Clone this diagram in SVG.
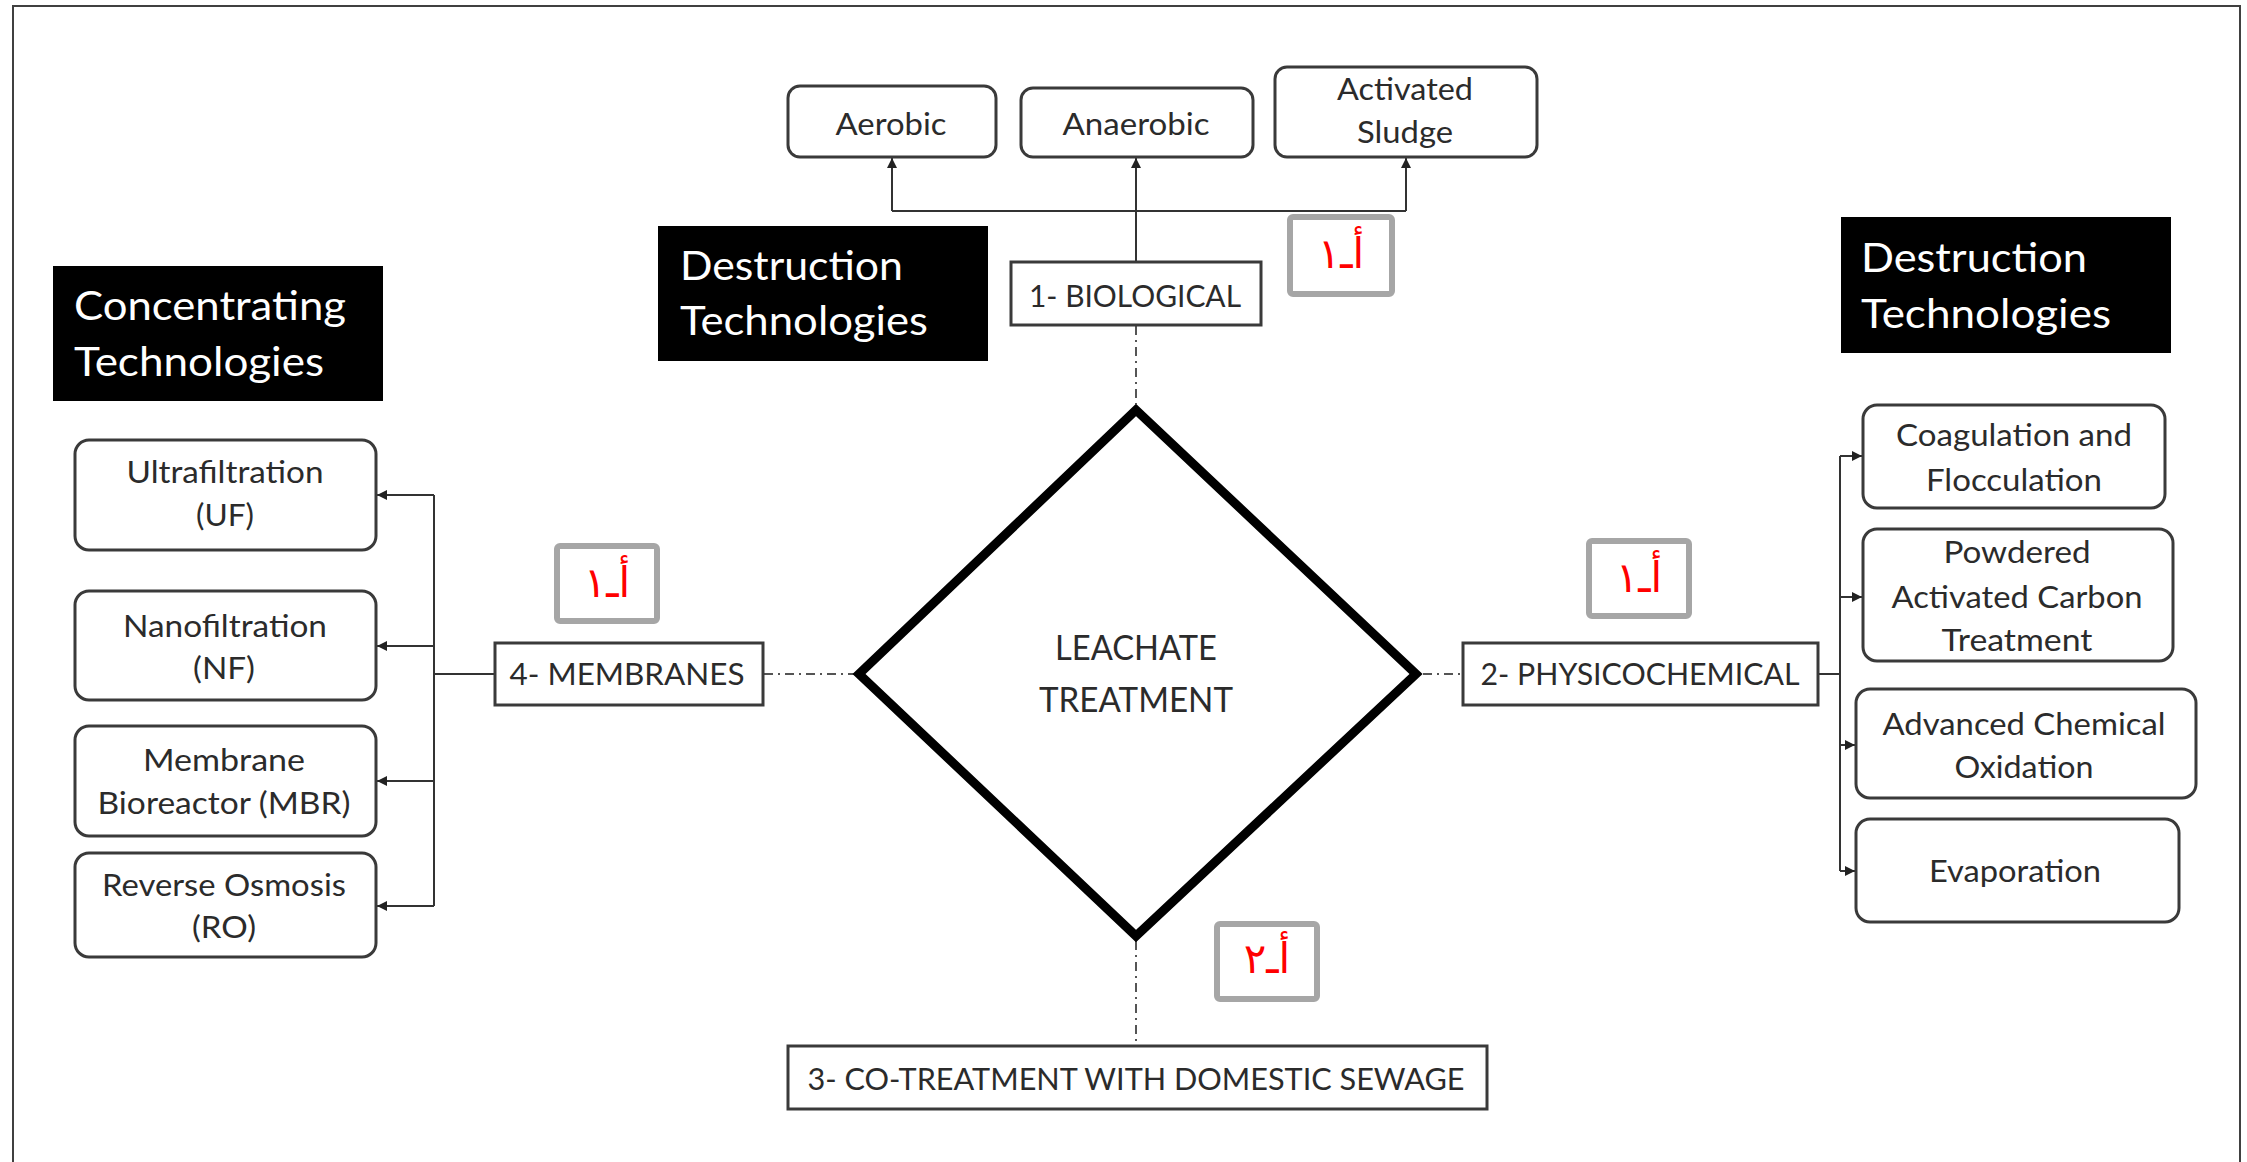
<svg xmlns="http://www.w3.org/2000/svg" width="2247" height="1162" viewBox="0 0 2247 1162">
<style>
.box{fill:#fff;stroke:#3a3a3a;stroke-width:3}
.rbox{fill:#fff;stroke:#3a3a3a;stroke-width:3}
.blk{fill:#000}
.lbl{fill:#fff;stroke:#a6a6a6;stroke-width:6}
.t{font-family:Lato,"Open Sans",sans-serif;font-size:31px;fill:#2b2b2b;text-anchor:middle}
.w{font-family:Lato,"Open Sans",sans-serif;font-size:40px;fill:#fff}
.c{font-family:Lato,"Open Sans",sans-serif;font-size:35px;fill:#2b2b2b;text-anchor:middle}
.ar{font-family:"DejaVu Sans",sans-serif;font-size:42px;fill:#ff0000;text-anchor:middle}
.ln{fill:none;stroke:#333;stroke-width:2}
.ar1{fill:none;stroke:#333;stroke-width:2;marker-end:url(#ah)}
.dd{fill:none;stroke:#555;stroke-width:2;stroke-dasharray:9 5 2 5}
</style>
<defs>
<marker id="ah" viewBox="0 0 10 10" refX="10" refY="5" markerWidth="10" markerHeight="10" markerUnits="userSpaceOnUse" orient="auto">
<path d="M0,0 L10,5 L0,10 z" fill="#222"/>
</marker>
</defs>
<rect x="13" y="6" width="2227" height="1170" fill="none" stroke="#404040" stroke-width="2"/>

<g id="connectors">
<path class="ln" d="M1136,262 V211"/>
<path class="ar1" d="M1136,211 V158"/>
<path class="ln" d="M892,211 H1406"/>
<path class="ar1" d="M892,211 V158"/>
<path class="ar1" d="M1406,211 V158"/>
<path class="dd" d="M1136,326 V404"/>
<path class="dd" d="M764,674 H856"/>
<path class="dd" d="M1423,674 H1462"/>
<path class="dd" d="M1136,941 V1045"/>
<path class="ln" d="M495,674 H434 M434,495 V906"/>
<path class="ar1" d="M434,495 H377"/>
<path class="ar1" d="M434,646 H377"/>
<path class="ar1" d="M434,781 H377"/>
<path class="ar1" d="M434,906 H377"/>
<path class="ln" d="M1818,674 H1840 M1840,456 V871"/>
<path class="ar1" d="M1840,456 H1862"/>
<path class="ar1" d="M1840,597 H1862"/>
<path class="ar1" d="M1840,745 H1855"/>
<path class="ar1" d="M1840,871 H1855"/>
</g>

<g id="center">
<path d="M1136,410 L1416,674 L1136,936 L859,674 Z" fill="#fff" stroke="#000" stroke-width="9" stroke-linejoin="miter"/>
<text class="c" x="1136" y="660" textLength="162" lengthAdjust="spacingAndGlyphs">LEACHATE</text>
<text class="c" x="1136" y="712" textLength="194" lengthAdjust="spacingAndGlyphs">TREATMENT</text>
</g>

<g id="aerobic"><rect class="rbox" x="788" y="86" width="208" height="71" rx="12"/><text class="t" x="891" y="135" textLength="111" lengthAdjust="spacingAndGlyphs">Aerobic</text></g>
<g id="anaerobic"><rect class="rbox" x="1021" y="88" width="232" height="69" rx="12"/><text class="t" x="1136" y="135" textLength="147" lengthAdjust="spacingAndGlyphs">Anaerobic</text></g>
<g id="activated-sludge"><rect class="rbox" x="1275" y="67" width="262" height="90" rx="12"/><text class="t" x="1405" y="100" textLength="136" lengthAdjust="spacingAndGlyphs">Activated</text><text class="t" x="1405" y="143" textLength="96" lengthAdjust="spacingAndGlyphs">Sludge</text></g>
<g id="biological"><rect class="box" x="1011" y="262" width="250" height="63"/><text class="t" x="1135" y="307" textLength="212" lengthAdjust="spacingAndGlyphs">1- BIOLOGICAL</text></g>

<g id="destruction-left"><rect class="blk" x="658" y="226" width="330" height="135"/><text class="w" x="680" y="280" textLength="223" lengthAdjust="spacingAndGlyphs">Destruction</text><text class="w" x="680" y="335" textLength="248" lengthAdjust="spacingAndGlyphs">Technologies</text></g>
<g id="concentrating"><rect class="blk" x="53" y="266" width="330" height="135"/><text class="w" x="74" y="320" textLength="272" lengthAdjust="spacingAndGlyphs">Concentrating</text><text class="w" x="74" y="376" textLength="250" lengthAdjust="spacingAndGlyphs">Technologies</text></g>
<g id="destruction-right"><rect class="blk" x="1841" y="217" width="330" height="136"/><text class="w" x="1861" y="272" textLength="226" lengthAdjust="spacingAndGlyphs">Destruction</text><text class="w" x="1861" y="328" textLength="250" lengthAdjust="spacingAndGlyphs">Technologies</text></g>

<g id="uf"><rect class="rbox" x="75" y="440" width="301" height="110" rx="14"/><text class="t" x="225" y="483" textLength="197" lengthAdjust="spacingAndGlyphs">Ultrafiltration</text><text class="t" x="225" y="526" textLength="58" lengthAdjust="spacingAndGlyphs">(UF)</text></g>
<g id="nf"><rect class="rbox" x="75" y="591" width="301" height="109" rx="14"/><text class="t" x="225" y="637" textLength="204" lengthAdjust="spacingAndGlyphs">Nanofiltration</text><text class="t" x="224" y="679" textLength="62" lengthAdjust="spacingAndGlyphs">(NF)</text></g>
<g id="mbr"><rect class="rbox" x="75" y="726" width="301" height="110" rx="14"/><text class="t" x="224" y="771" textLength="162" lengthAdjust="spacingAndGlyphs">Membrane</text><text class="t" x="224" y="814" textLength="253" lengthAdjust="spacingAndGlyphs">Bioreactor (MBR)</text></g>
<g id="ro"><rect class="rbox" x="75" y="853" width="301" height="104" rx="14"/><text class="t" x="224" y="896" textLength="244" lengthAdjust="spacingAndGlyphs">Reverse Osmosis</text><text class="t" x="224" y="938" textLength="64" lengthAdjust="spacingAndGlyphs">(RO)</text></g>
<g id="membranes"><rect class="box" x="495" y="643" width="268" height="62"/><text class="t" x="627" y="685" textLength="235" lengthAdjust="spacingAndGlyphs">4- MEMBRANES</text></g>

<g id="physicochemical"><rect class="box" x="1463" y="643" width="355" height="62"/><text class="t" x="1640" y="685" textLength="319" lengthAdjust="spacingAndGlyphs">2- PHYSICOCHEMICAL</text></g>
<g id="coagulation"><rect class="rbox" x="1863" y="405" width="302" height="103" rx="14"/><text class="t" x="2014" y="446" textLength="236" lengthAdjust="spacingAndGlyphs">Coagulation and</text><text class="t" x="2014" y="491" textLength="176" lengthAdjust="spacingAndGlyphs">Flocculation</text></g>
<g id="pac"><rect class="rbox" x="1863" y="529" width="310" height="132" rx="14"/><text class="t" x="2017" y="563" textLength="147" lengthAdjust="spacingAndGlyphs">Powdered</text><text class="t" x="2017" y="608" textLength="251" lengthAdjust="spacingAndGlyphs">Activated Carbon</text><text class="t" x="2017" y="651" textLength="151" lengthAdjust="spacingAndGlyphs">Treatment</text></g>
<g id="aco"><rect class="rbox" x="1856" y="689" width="340" height="109" rx="14"/><text class="t" x="2024" y="735" textLength="283" lengthAdjust="spacingAndGlyphs">Advanced Chemical</text><text class="t" x="2024" y="778" textLength="139" lengthAdjust="spacingAndGlyphs">Oxidation</text></g>
<g id="evaporation"><rect class="rbox" x="1856" y="819" width="323" height="103" rx="14"/><text class="t" x="2015" y="882" textLength="172" lengthAdjust="spacingAndGlyphs">Evaporation</text></g>

<g id="cotreatment"><rect class="box" x="788" y="1046" width="699" height="63"/><text class="t" x="1136" y="1090" textLength="657" lengthAdjust="spacingAndGlyphs">3- CO-TREATMENT WITH DOMESTIC SEWAGE</text></g>

<g id="label-top"><rect class="lbl" x="1290" y="217" width="102" height="77" rx="3"/><text class="ar" x="1341" y="268">أـ١</text></g>
<g id="label-left"><rect class="lbl" x="557" y="546" width="100" height="75" rx="3"/><text class="ar" x="607" y="597">أـ١</text></g>
<g id="label-right"><rect class="lbl" x="1589" y="541" width="100" height="75" rx="3"/><text class="ar" x="1639" y="592">أـ١</text></g>
<g id="label-bottom"><rect class="lbl" x="1217" y="924" width="100" height="75" rx="3"/><text class="ar" x="1267" y="973">أـ٢</text></g>
</svg>
